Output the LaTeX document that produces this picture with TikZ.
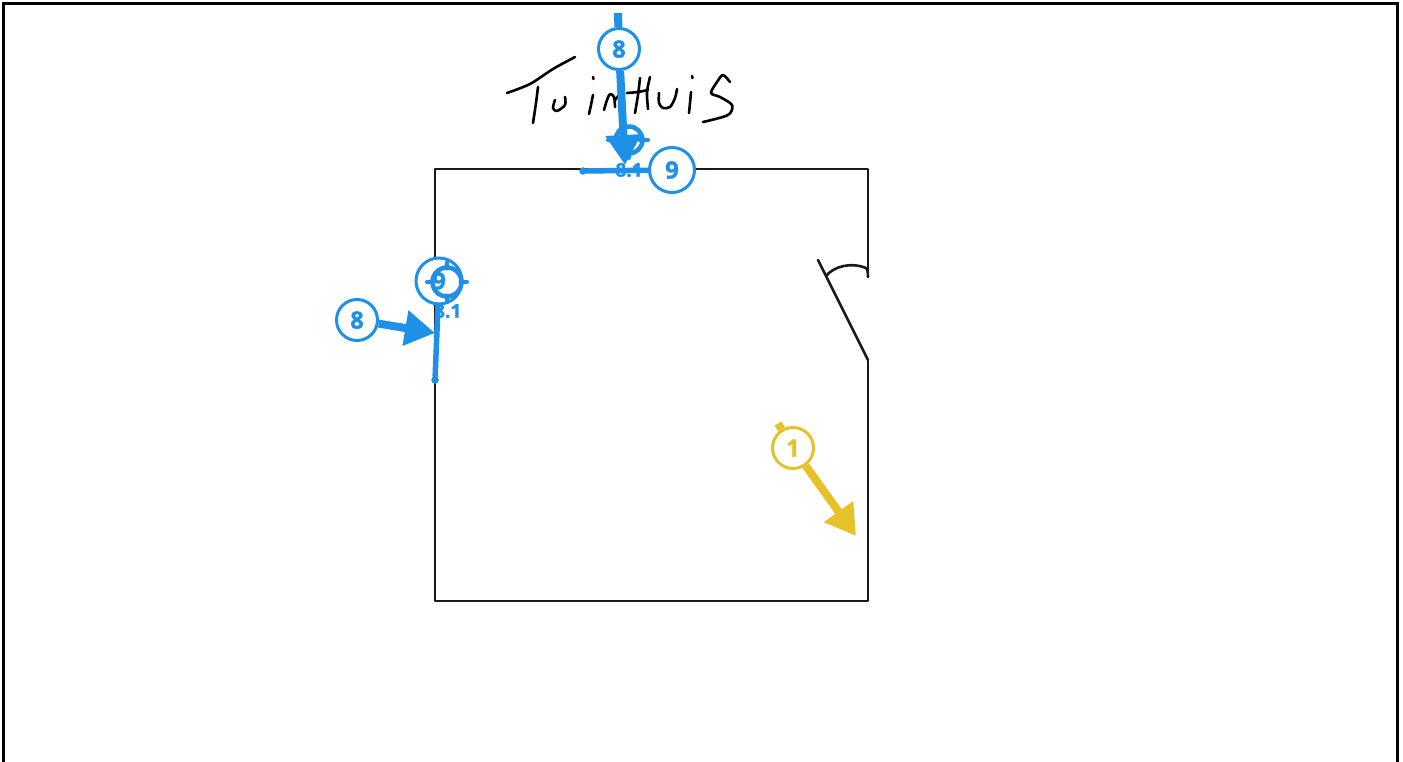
\documentclass[tikz,border=0pt]{standalone}
\usepackage{fontspec}
\setmainfont[BoldFeatures={FakeBold=1.2}]{Open Sans}
\usetikzlibrary{arrows.meta}
\definecolor{mblue}{HTML}{1E90E8}
\definecolor{myellow}{HTML}{E6C229}
\tikzset{
  wall/.style={draw=black!90,line width=2.6pt,line cap=round,line join=round},
  pen/.style={draw=black,line width=2.6pt,line cap=round,line join=round},
  badge/.style={circle,draw=#1,fill=white,text=#1,line width=3pt,inner sep=0pt,font=\fontsize{24}{24}\selectfont\bfseries},
  thick arrow/.style={draw=#1,line width=8pt,-{Triangle[length=30pt,width=34pt,fill=#1]},shorten >=0pt},
  thin mark/.style={draw=mblue,line width=5.5pt,line cap=round},
  reticle/.style={circle,draw=mblue,line width=4.5pt,minimum size=#1,inner sep=0pt},
  ticks/.style={draw=mblue,line width=4.5pt,line cap=round},
  enddot/.style={circle,fill=mblue,inner sep=0pt,minimum size=7.5pt},
  sublabel/.style={text=mblue,inner sep=0pt,font=\fontsize{19}{19}\selectfont\bfseries}
}
\begin{document}
\begin{tikzpicture}[x=1pt,y=-1pt]
\useasboundingbox (0,0) rectangle (1403,762);
\draw[black,line width=3.4pt] (3.5,765) -- (3.5,3.5) -- (1397.5,3.5) -- (1397.5,765);
% room
\draw[wall] (868,277) -- (868,169) -- (435,169) -- (435,601) -- (868,601) -- (868,360);
\draw[wall] (818,260) -- (868,360);
\draw[wall] (826,276) .. controls (834,266) and (852,262) .. (866,268) .. controls (868,270) and (868,274) .. (868,277);
% handwriting
\draw[pen] plot[smooth] coordinates {(507,93) (530,84) (553,69) (575,57)};
\draw[pen] plot[smooth] coordinates {(538,87) (536,103) (533,123)};
\draw[pen] plot[smooth] coordinates {(555,100) (553,108) (557,111) (565,105) (565,97)};
\draw[pen] (593,77) -- (593.5,79);
\draw[pen] plot[smooth] coordinates {(593,95) (591,105) (589,114)};
\draw[pen] plot[smooth] coordinates {(604,110) (607,100) (610,94) (614,97) (615,107)};
\draw[pen] plot[smooth] coordinates {(615,100) (619,95) (622,94)};
\draw[pen] plot[smooth] coordinates {(640,78) (638,95) (635,113)};
\draw[pen] plot[smooth] coordinates {(627,93) (638,92) (648,90)};
\draw[pen] plot[smooth] coordinates {(650,77) (647,92) (648,109)};
\draw[pen] plot[smooth] coordinates {(659,93) (659,103) (663,108) (670,107) (675,98) (677,89)};
\draw[pen] (692,76) -- (692.5,78);
\draw[pen] plot[smooth] coordinates {(691,92) (690,103) (689,113)};
\draw[pen] plot[smooth] coordinates {(730,82) (723,75) (717,82) (711,93) (720,97) (732,105) (728,115) (703,122)};
% top group
\node[reticle=27pt] (tgtTop) at (629,140) {};
\draw[ticks] (tgtTop.west) ++(-5,0) -- ++(8,0);
\draw[ticks] (tgtTop.east) ++(-5,0) -- ++(8,0);
\draw[ticks] (tgtTop.south) ++(0,-2) -- ++(0,4);
\node[sublabel] (subTop) at (629,170) {8.1};
\coordinate (startTop) at (618,13);
\coordinate (tipTop) at (625,165);
\node[enddot] (endTop) at (583,171) {};
\node[badge=mblue,minimum size=41pt] (eightTop) at (619,49) {8};
\node[badge=mblue,minimum size=45pt] (nineTop) at (672,170) {9};
\draw[mblue,line width=8pt] (startTop) -- (eightTop);
\draw[thick arrow=mblue] (eightTop) -- (tipTop);
\draw[thin mark] (nineTop) -- (endTop);
% left group
\node[sublabel,anchor=west] (subLeft) at (434,311) {8.1};
\coordinate (tipLeft) at (435,333);
\node[enddot] (endLeft) at (435,380) {};
\node[badge=mblue,minimum size=46pt] (nineLeft) at (439,281) {9};
\node[reticle=29pt] (tgtLeft) at (447,282) {};
\draw[ticks] (tgtLeft.west) ++(-3,0) -- ++(6,0);
\draw[ticks] (tgtLeft.east) ++(-3,0) -- ++(6,0);
\draw[ticks] (tgtLeft.north) ++(0,-3) -- ++(0,6);
\draw[ticks] (tgtLeft.south) ++(0,-3) -- ++(0,6);
\node[badge=mblue,minimum size=41pt] (eightLeft) at (357,320) {8};
\draw[thin mark] (nineLeft) -- (endLeft);
\draw[thick arrow=mblue] (eightLeft) -- (tipLeft);
% yellow
\coordinate (startOne) at (778,423.5);
\coordinate (tipOne) at (856,536);
\node[badge=myellow,minimum size=41pt] (one) at (793,448) {1};
\draw[myellow,line width=8pt] (startOne) -- (one);
\draw[thick arrow=myellow] (one) -- (tipOne);
\end{tikzpicture}
\end{document}
